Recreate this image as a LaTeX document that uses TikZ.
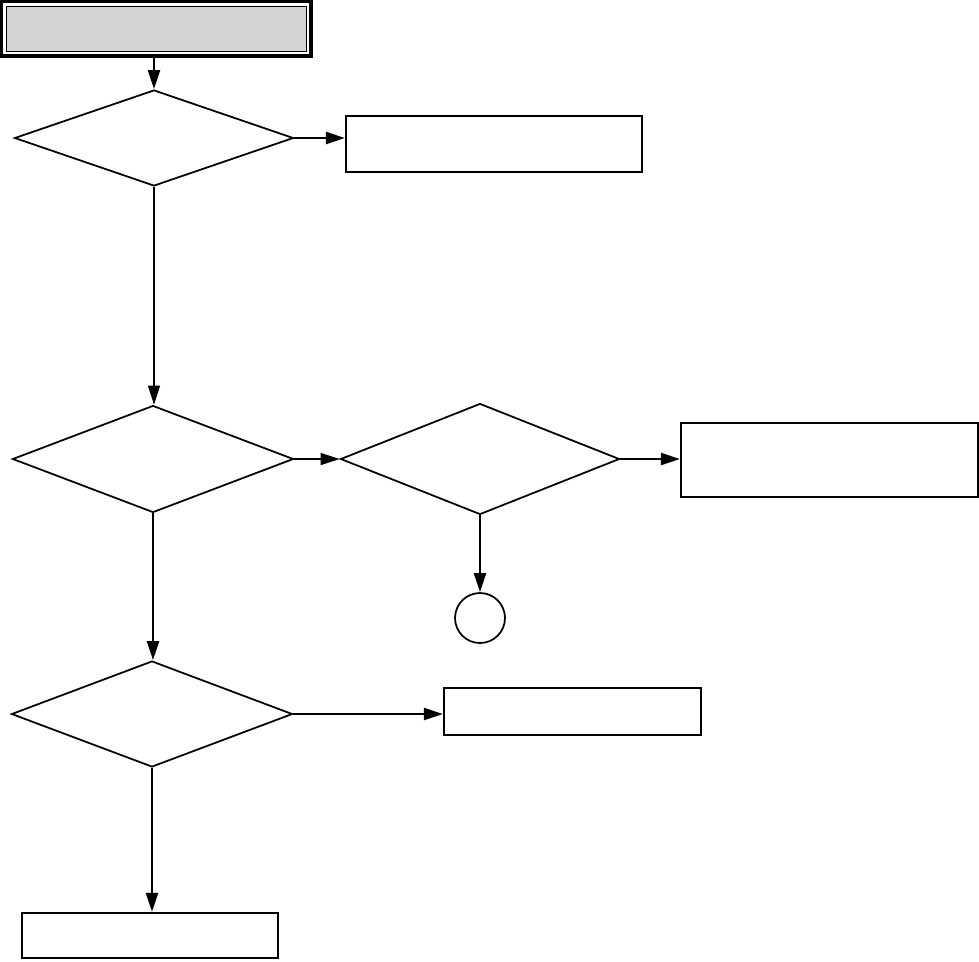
\documentclass[tikz,border=0pt]{standalone}
\usetikzlibrary{shapes.geometric,arrows.meta,fit}
\definecolor{boxgray}{RGB}{212,212,212}

\begin{document}
\begin{tikzpicture}[
        x=0.02cm, y=-0.02cm,
        decision/.style={
        diamond, draw=black, line width=1pt,
        inner sep=0pt, minimum width=5.6cm},
        action/.style={
        rectangle, draw=black, line width=1.3pt,
        inner sep=0pt},
        flow/.style={
        line width=1.3pt,
        -{Triangle[length=3.8mm,width=2.4mm]}},
        thinflow/.style={
        line width=0.7pt,
        -{Triangle[length=3.8mm,width=2.4mm]}},
        ]

        \useasboundingbox (0,0) rectangle (979,961);

        \node (start) [action, line width=0.5pt, fill=boxgray, minimum width=6cm, minimum height=0.9cm]  at (156,28.5){};
        \node (frame) [draw=black, line width=2.2pt, inner sep=0.09cm, fit=(start)] {};

        \node (q1) [decision, minimum width=5.58cm, minimum height=1.92cm]  at (154,138){};
        \node (q2) [decision, minimum width=5.62cm, minimum height=2.14cm]  at (153,459){};
        \node (q3) [decision, minimum width=5.58cm, minimum height=2.22cm]  at (480,459){};
        \node (q4) [decision, minimum width=5.62cm, minimum height=2.12cm]  at (152,714){};

        \node (r1) [action, minimum width=5.92cm, minimum height=1.12cm]  at (494,144){};
        \node (r2) [action, minimum width=5.94cm, minimum height=1.48cm]  at (829.5,460){};
        \node (r3) [action, minimum width=5.14cm, minimum height=0.94cm]  at (572.5,711.5){};
        \node (r4) [action, minimum width=5.12cm, minimum height=0.9cm]  at (150,935.5){};
        \node (c) [circle, draw=black, line width=1pt, inner sep=0pt, minimum size=1cm]  at (480,618){};

        \draw [flow] (frame.south -| q1.north) -- (q1.north);
        \draw [flow] (q1.east) -- (q1.east -| r1.west);
        \draw [thinflow] (q1.south) -- (q1.south |- q2.north);
        \draw [thinflow] (q2.east) -- (q3.west);
        \draw [flow] (q3.east) -- (q3.east -| r2.west);
        \draw [flow] (q3.south) -- (c.north);
        \draw [flow] (q2.south) -- (q2.south |- q4.north);
        \draw [flow] (q4.east) -- (q4.east -| r3.west);
        \draw [flow] (q4.south) -- (q4.south |- r4.north);
    \end{tikzpicture}
\end{document}
